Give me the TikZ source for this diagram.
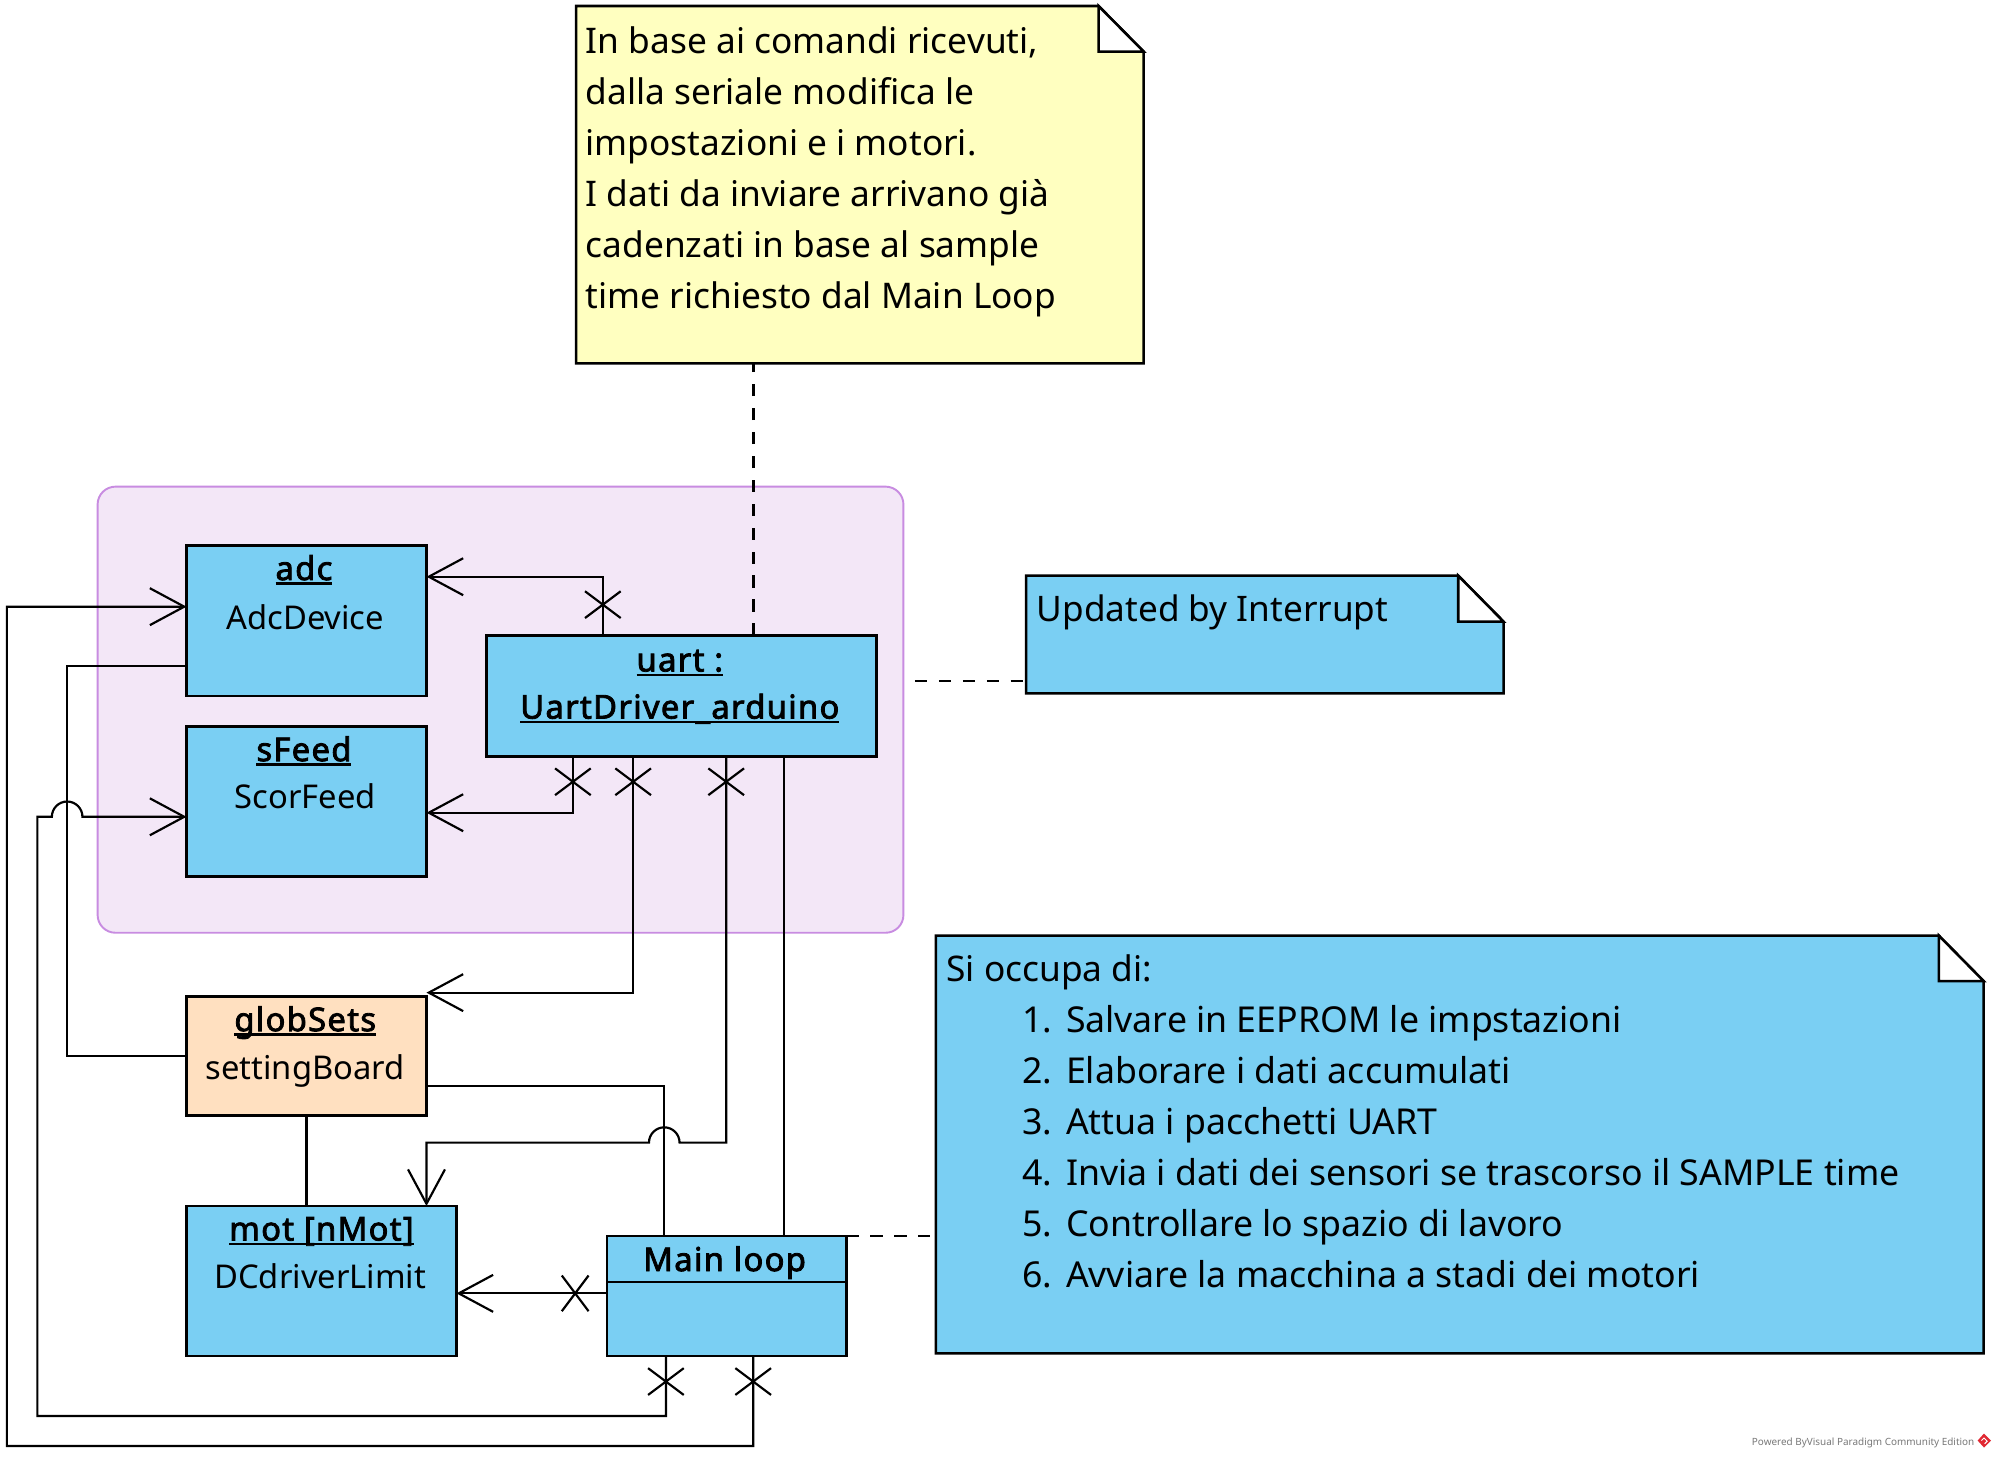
\documentclass[tikz,border=0pt]{standalone}
\usepackage{fontspec}
\setmainfont{Noto Sans}[BoldFont={Noto Sans}, BoldFeatures={FakeBold=2.5, LetterSpace=4}]
\usetikzlibrary{arrows.meta,calc}

\definecolor{clsblue}{RGB}{122,207,243}
\definecolor{clspeach}{RGB}{255,224,192}
\definecolor{noteyellow}{RGB}{255,255,192}
\definecolor{pkgfill}{RGB}{243,231,247}
\definecolor{pkgline}{RGB}{200,140,225}
\definecolor{footgray}{RGB}{120,120,120}
\definecolor{logored}{RGB}{225,40,50}

% underline at a fixed distance below the baseline
\newcommand{\undl}[1]{\sbox0{#1}\rlap{\rule[-3.6pt]{\wd0}{1.8pt}}\usebox0}
% numbered line of the task list
\newcommand{\taskitem}[2]{\hspace*{59.4pt}{\fontsize{28}{40}\selectfont\makebox[34.5pt][l]{#1}#2}}

\tikzset{
  box/.style={draw, line width=2pt, rectangle, inner sep=0pt, outer sep=0pt, anchor=north west},
  conn/.style={line width=1.7pt},
  openarrow/.style={-{Straight Barb[length=27pt,width=29pt,line width=1.7pt]}},
  dashline/.style={line width=1.9pt, dash pattern=on 9.7pt off 9.1pt},
  ttl/.style={anchor=base, inner sep=0pt, font=\fontsize{25.7}{30}\selectfont\bfseries},
  cls/.style={anchor=base, inner sep=0pt, font=\fontsize{25.7}{30}\selectfont},
  notebody/.style={draw, line width=2pt, line join=miter},
  notearea/.style={inner sep=0pt, outer sep=0pt, anchor=north west},
  notetext/.style={anchor=base west, inner sep=0pt},
  xv/.pic={\draw[conn] (-14,-10.5) -- (14,10.5) (-14,10.5) -- (14,-10.5);},
  xh/.pic={\draw[conn] (-10.5,-14) -- (10.5,14) (-10.5,14) -- (10.5,-14);}
}

\begin{document}
\begin{tikzpicture}[x=1pt,y=-1pt]
\path[use as bounding box, fill=white] (0,0) rectangle (1568,1144);

% ---------- package ----------
\node[draw=pkgline, fill=pkgfill, line width=1.5pt, rounded corners=14pt,
      minimum width=632.4pt, minimum height=350.1pt, anchor=north west,
      inner sep=0pt, outer sep=0pt] (pkg) at (76.6,381.9) {};

% ---------- class instances ----------
\node[box, fill=clsblue, minimum width=188.3pt, minimum height=118pt] (adc) at (146.4,428.2) {};
\node[ttl] at ($(adc.north)+(-2,27)$) {\undl{adc}};
\node[cls] at ($(adc.north)+(-1,65.5)$) {AdcDevice};

\node[box, fill=clsblue, minimum width=188.3pt, minimum height=117.7pt] (sFeed) at (146.4,570.3) {};
\node[ttl] at ($(sFeed.north)+(-2,27)$) {\undl{sFeed}};
\node[cls] at ($(sFeed.north)+(-1,64.5)$) {ScorFeed};

\node[box, fill=clsblue, minimum width=306pt, minimum height=94.9pt] (uart) at (382,498.9) {};
\node[ttl] at ($(uart.north)+(-1.5,28)$) {\undl{uart :}};
\node[ttl] at ($(uart.north)+(-1.5,65)$) {\undl{UartDriver\_arduino}};

\node[box, fill=clspeach, minimum width=188.3pt, minimum height=93.4pt] (globSets) at (146.4,782.2) {};
\node[ttl] at ($(globSets.north)+(-1,27)$) {\undl{globSets}};
\node[cls] at ($(globSets.north)+(-1,65)$) {settingBoard};

\node[box, fill=clsblue, minimum width=211.8pt, minimum height=117.7pt] (mot) at (146.4,946.5) {};
\node[ttl] at ($(mot.north)+(0,27)$) {\undl{mot [nMot]}};
\node[cls] at ($(mot.north)+(-1,65)$) {DCdriverLimit};

\node[box, fill=clsblue, minimum width=187.9pt, minimum height=94.2pt] (ml) at (476.2,970) {};
\node[ttl] at ($(ml.north)+(-1.5,27.5)$) {Main loop};
\draw[line width=2pt] ($(ml.north west)+(0,35.9)$) -- ($(ml.north east)+(0,35.9)$);

% ---------- attachment points ----------
\coordinate (uTop)  at ($(uart.north west)+(91.1,0)$);
\coordinate (uB1)   at ($(uart.south west)+(67.6,0)$);
\coordinate (uB2)   at ($(uart.south west)+(114.9,0)$);
\coordinate (uB3)   at ($(uart.south west)+(187.9,0)$);
\coordinate (uB4)   at ($(uart.south west)+(233,0)$);
\coordinate (uNote) at ($(uart.north west)+(209.2,0)$);
\coordinate (mlT1)  at ($(ml.north west)+(45.1,0)$);
\coordinate (mlB1)  at ($(ml.south west)+(46.4,0)$);
\coordinate (mlB2)  at ($(ml.south west)+(114.9,0)$);
\coordinate (mlL)   at ($(ml.north west)+(0,45)$);

% ---------- connectors ----------
% uart -> adc
\draw[conn, openarrow] (uTop) |- ($(adc.north east)+(0,24.4)$);
\pic at ($(uTop)+(0,-24.4)$) {xv};
% uart -> sFeed
\draw[conn, openarrow] (uB1) |- ($(sFeed.north east)+(0,67.5)$);
\pic at ($(uB1)+(0,19.7)$) {xv};
% uart -> globSets
\draw[conn, openarrow] (uB2) |- ($(globSets.north east)+(0,-3.2)$);
\pic at ($(uB2)+(0,19.7)$) {xv};
% uart -> mot, hopping over the globSets / Main loop link
\draw[conn, openarrow] (uB3) -- (569.9,896.7) -- (533.3,896.7)
   arc[start angle=0, end angle=-180, radius=12] -- (334.7,896.7)
   -- ($(mot.north west)+(188.3,0)$);
\pic at ($(uB3)+(0,19.7)$) {xv};
% uart -- Main loop
\draw[conn] (uB4) -- (uB4 |- ml.north);
% globSets -- Main loop
\draw[conn] ($(globSets.north east)+(0,70.1)$) -| (mlT1);
% globSets -- mot
\draw[conn] (globSets.south) -- (globSets.south |- mot.north);
% adc -- globSets
\draw[conn] ($(adc.north west)+(0,94.5)$) -- (52.7,522.7) |- (globSets.west);
% Main loop -> mot
\draw[conn, openarrow] (mlL) -- (mlL -| mot.east);
\pic at ($(mlL)+(-24.8,0)$) {xh};
% Main loop -> sFeed, hopping over the adc / globSets link
\draw[conn, openarrow] (mlB1) -- (522.6,1111.3) -- (29.3,1111.3) -- (29.3,641)
   -- (40.7,641) arc[start angle=180, end angle=360, radius=12]
   -- ($(sFeed.north west)+(0,70.7)$);
\pic at ($(mlB1)+(0,20)$) {xv};
% Main loop -> adc
\draw[conn, openarrow] (mlB2) -- (591.1,1134.8) -- (5.4,1134.8) -- (5.4,476.1)
   -- ($(adc.north west)+(0,47.9)$);
\pic at ($(mlB2)+(0,20)$) {xv};

% ---------- notes ----------
% serial note
\node[notearea, minimum width=445.4pt, minimum height=280.4pt] (n1) at (452.1,4.7) {};
\draw[notebody, fill=noteyellow] (n1.north west) -- ($(n1.north east)+(-35.4,0)$)
   -- ($(n1.north east)+(0,35.8)$) -- (n1.south east) -- (n1.south west) -- cycle;
\draw[notebody, fill=white] ($(n1.north east)+(-35.4,0)$) -- ($(n1.north east)+(-35.4,35.8)$)
   -- ($(n1.north east)+(0,35.8)$) -- cycle;
\node[notetext] (t1) at (459.5,41.9) {\parbox[t]{430pt}{\raggedright\fontsize{27.7}{40}\selectfont
  In base ai comandi ricevuti,\\
  dalla seriale modifica le\\
  impostazioni e i motori.\\
  I dati da inviare arrivano già\\
  cadenzati in base al sample\\
  time richiesto dal Main Loop}};
\draw[dashline] (uNote) -- (uNote |- n1.south);

% interrupt note
\node[notearea, minimum width=374.7pt, minimum height=92.3pt] (n2) at (805.3,451.8) {};
\draw[notebody, fill=clsblue] (n2.north west) -- ($(n2.north east)+(-35.6,0)$)
   -- ($(n2.north east)+(0,36.1)$) -- (n2.south east) -- (n2.south west) -- cycle;
\draw[notebody, fill=white] ($(n2.north east)+(-35.6,0)$) -- ($(n2.north east)+(-35.6,36.1)$)
   -- ($(n2.north east)+(0,36.1)$) -- cycle;
\node[notetext] (t2) at (813.5,487.9) {\fontsize{27.6}{40}\selectfont Updated by Interrupt};
\draw[dashline] ($(pkg.north east)+(9,152.6)$) -- ($(n2.north west)+(0,82.7)$);

% main loop note
\node[notearea, minimum width=822.3pt, minimum height=327.8pt] (n3) at (734.4,734.3) {};
\draw[notebody, fill=clsblue] (n3.north west) -- ($(n3.north east)+(-35.1,0)$)
   -- ($(n3.north east)+(0,35.6)$) -- (n3.south east) -- (n3.south west) -- cycle;
\draw[notebody, fill=white] ($(n3.north east)+(-35.1,0)$) -- ($(n3.north east)+(-35.1,35.6)$)
   -- ($(n3.north east)+(0,35.6)$) -- cycle;
\node[notetext] (t3) at (742.5,770.4) {\parbox[t]{800pt}{\raggedright\fontsize{27.7}{40}\selectfont
  Si occupa di:\\
  \taskitem{1.}{Salvare in EEPROM le impstazioni}\\
  \taskitem{2.}{Elaborare i dati accumulati}\\
  \taskitem{3.}{Attua i pacchetti UART}\\
  \taskitem{4.}{Invia i dati dei sensori se trascorso il SAMPLE time}\\
  \taskitem{5.}{Controllare lo spazio di lavoro}\\
  \taskitem{6.}{Avviare la macchina a stadi dei motori}}};
\draw[dashline] (ml.north east) -- (ml.north east -| n3.west);

% ---------- footer ----------
\node[anchor=base west, inner sep=0pt, text=footgray] (foot) at (1374.7,1134)
  {\fontsize{7.8}{9}\selectfont Powered ByVisual Paradigm Community Edition};
\fill[logored] (1552,1130.5) -- (1557,1125) -- (1562.5,1130.5) -- (1557,1136) -- cycle;
\draw[white, line width=0.8pt] (1555,1130.5) -- (1557,1128.5) -- (1559.5,1131) -- (1557.5,1133);
\end{tikzpicture}
\end{document}
